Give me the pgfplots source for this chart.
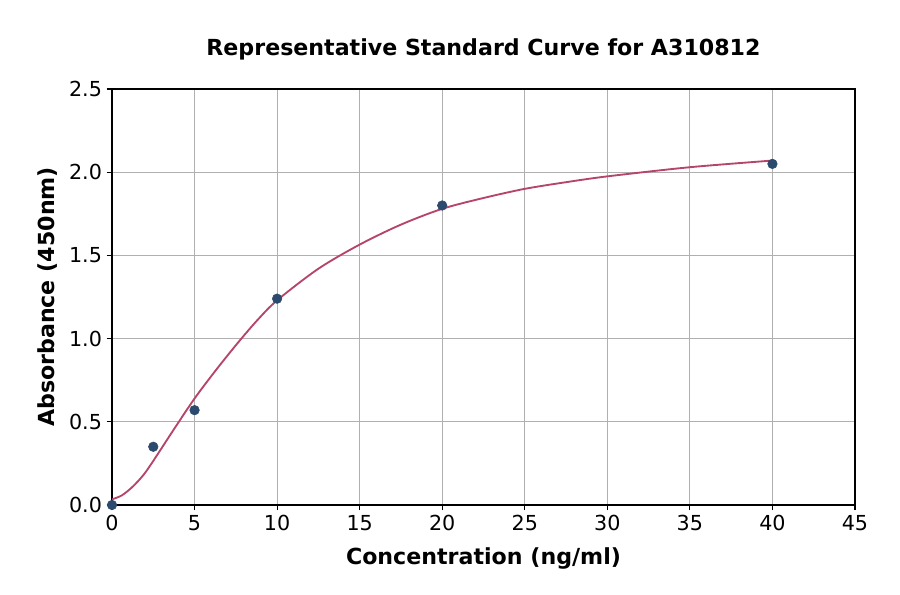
\documentclass[border=0pt]{standalone}
\usepackage{pgfplots}
\pgfplotsset{compat=1.18}
\usepackage{fontspec}
\setmainfont{DejaVu Sans}
\definecolor{pts}{RGB}{44,74,110}
\definecolor{fit}{RGB}{181,70,106}
\definecolor{gridc}{RGB}{176,176,176}

\begin{document}
\begin{tikzpicture}
  \useasboundingbox (-84pt,-66.75pt) rectangle (591pt,378.75pt);
  \begin{axis}[
      at={(0,0)}, anchor=south west,
      scale only axis,
      width=557.25pt, height=312pt,
      xmin=0, xmax=45, ymin=0, ymax=2.5,
      xtick={0,5,...,45},
      ytick={0,0.5,...,2.5},
      yticklabel style={/pgf/number format/.cd,fixed,fixed zerofill,precision=1},
      /pgf/number format/assume math mode=true,
      tick label style={font=\fontsize{15.5}{18}\selectfont},
      grid=major,
      major grid style={gridc, line width=0.8pt},
      axis line style={line width=0.8pt},
      tick align=outside,
      tick pos=left,
      major tick length=4pt,
      tick style={black, line width=0.8pt},
      xlabel={\bfseries Concentration (ng/ml)},
      ylabel={\bfseries Absorbance (450nm)},
      label style={font=\fontsize{16.6}{20}\selectfont},
      xlabel style={yshift=-6pt},
      ylabel style={yshift=2pt},
      title={\bfseries Representative Standard Curve for A310812},
      title style={font=\fontsize{16.6}{20}\selectfont, yshift=12pt},
    ]
    \addplot[color=fit, line width=1.4pt, smooth, mark=none] coordinates {
      (0,0.034) (0.6,0.058) (1.25,0.11) (1.9,0.18) (2.5,0.265) (3.75,0.455) (5,0.64)
      (6.25,0.805) (7.5,0.96) (8.75,1.105) (10,1.23) (12.5,1.42)
      (15,1.565) (17.5,1.685) (20,1.78) (22.5,1.845) (25,1.90)
      (27.5,1.94) (30,1.975) (35,2.03) (40,2.07)
    };
    \addplot[only marks, mark=*, mark size=3.6pt, color=pts, fill=pts] coordinates {
      (0,0.0) (2.5,0.35) (5,0.57) (10,1.24) (20,1.80) (40,2.05)
    };
  \end{axis}
\end{tikzpicture}
\end{document}
